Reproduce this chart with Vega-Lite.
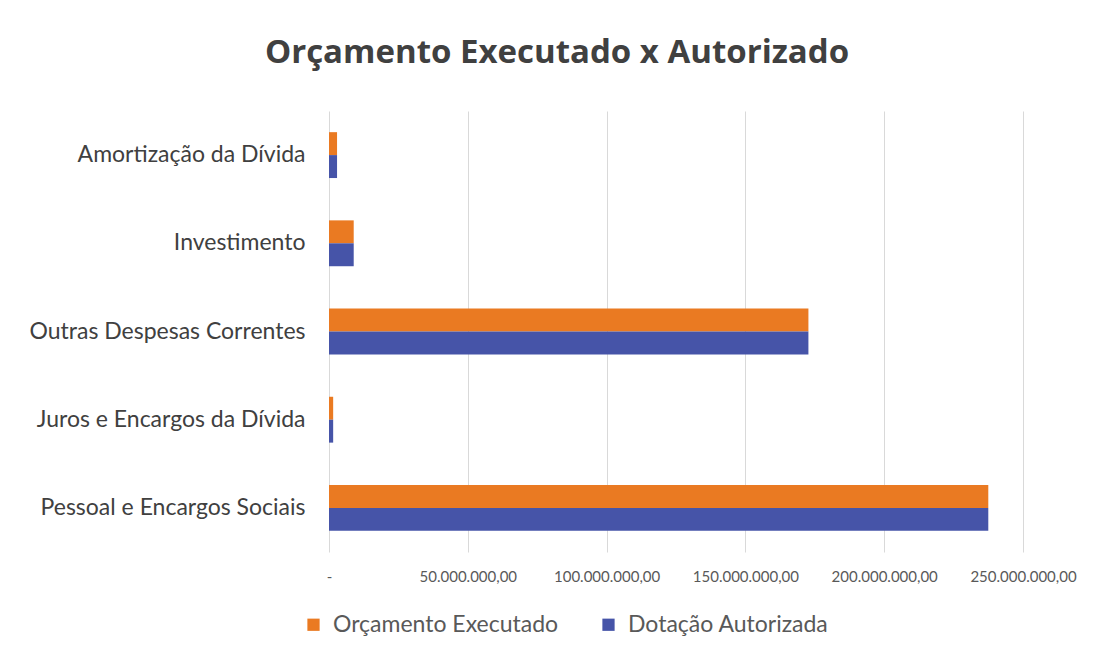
{
  "$schema": "https://vega.github.io/schema/vega-lite/v6.json",
  "autosize": {"type": "none"},
  "width": 694,
  "height": 441,
  "padding": {"left": 329, "top": 111, "right": 82, "bottom": 108},
  "background": "white",
  "title": {
    "text": "Orçamento Executado x Autorizado",
    "font": "Open Sans",
    "fontSize": 33,
    "fontWeight": "bold",
    "color": "#404040",
    "anchor": "middle",
    "dx": -119,
    "offset": 41
  },
  "data": {
    "values": [
      {"categoria": "Amortização da Dívida", "serie": "Orçamento Executado", "valor": 2900000},
      {"categoria": "Amortização da Dívida", "serie": "Dotação Autorizada", "valor": 2900000},
      {"categoria": "Investimento", "serie": "Orçamento Executado", "valor": 8900000},
      {"categoria": "Investimento", "serie": "Dotação Autorizada", "valor": 8900000},
      {"categoria": "Outras Despesas Correntes", "serie": "Orçamento Executado", "valor": 172700000},
      {"categoria": "Outras Despesas Correntes", "serie": "Dotação Autorizada", "valor": 172700000},
      {"categoria": "Juros e Encargos da Dívida", "serie": "Orçamento Executado", "valor": 1500000},
      {"categoria": "Juros e Encargos da Dívida", "serie": "Dotação Autorizada", "valor": 1500000},
      {"categoria": "Pessoal e Encargos Sociais", "serie": "Orçamento Executado", "valor": 237500000},
      {"categoria": "Pessoal e Encargos Sociais", "serie": "Dotação Autorizada", "valor": 237500000}
    ]
  },
  "mark": {"type": "bar"},
  "encoding": {
    "y": {
      "field": "categoria",
      "type": "nominal",
      "sort": ["Amortização da Dívida", "Investimento", "Outras Despesas Correntes", "Juros e Encargos da Dívida", "Pessoal e Encargos Sociais"],
      "scale": {"paddingInner": 0.48, "paddingOuter": 0.24},
      "axis": {
        "title": null,
        "ticks": false,
        "domain": false,
        "labelPadding": 24,
        "labelFont": "Lato",
        "labelFontSize": 23,
        "labelColor": "#404040",
        "labelLimit": 400
      }
    },
    "yOffset": {
      "field": "serie",
      "type": "nominal",
      "sort": ["Orçamento Executado", "Dotação Autorizada"]
    },
    "x": {
      "field": "valor",
      "type": "quantitative",
      "scale": {"domain": [0, 250000000], "nice": false},
      "axis": {
        "title": null,
        "values": [0, 50000000, 100000000, 150000000, 200000000, 250000000],
        "labelExpr": "datum.value == 0 ? '-' : format(datum.value, ',.2f')",
        "labelOverlap": false,
        "labelFlush": false,
        "ticks": false,
        "domain": false,
        "grid": true,
        "gridColor": "#d9d9d9",
        "gridWidth": 1,
        "labelPadding": 17,
        "labelFont": "Lato",
        "labelFontSize": 15,
        "labelColor": "#595959"
      }
    },
    "color": {
      "field": "serie",
      "type": "nominal",
      "sort": ["Orçamento Executado", "Dotação Autorizada"],
      "scale": {
        "domain": ["Orçamento Executado", "Dotação Autorizada"],
        "range": ["#EA7A22", "#4654A8"]
      },
      "legend": {
        "title": null,
        "orient": "none",
        "direction": "horizontal",
        "legendX": -27,
        "legendY": 502,
        "symbolType": "square",
        "symbolSize": 150,
        "labelFont": "Lato",
        "labelFontSize": 23,
        "labelColor": "#595959",
        "columnPadding": 38,
        "labelOffset": 8,
        "labelLimit": 400
      }
    }
  },
  "config": {
    "view": {"stroke": null},
    "locale": {
      "number": {"decimal": ",", "thousands": ".", "grouping": [3], "currency": ["R$", ""]}
    }
  }
}
